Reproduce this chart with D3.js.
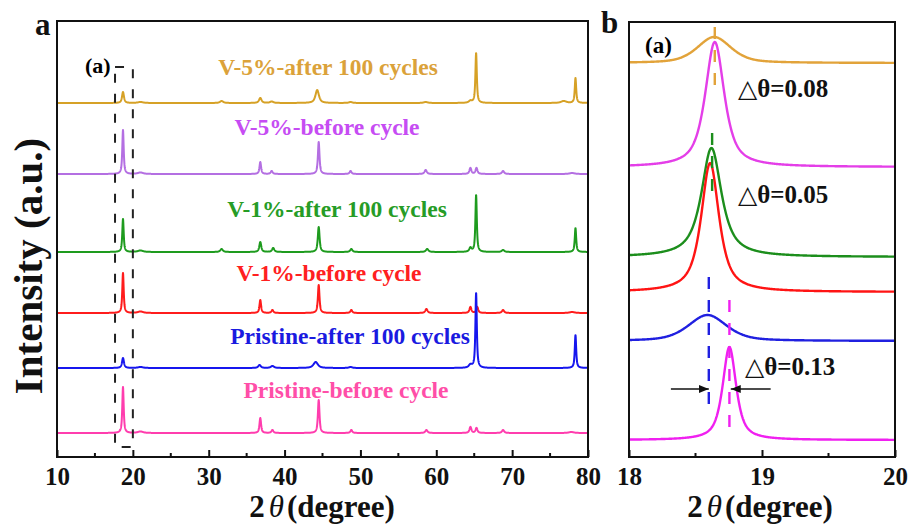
<!DOCTYPE html>
<html>
<head>
<meta charset="utf-8">
<script src="https://cdn.jsdelivr.net/npm/d3@7"></script>
<style>
  body { margin: 0; background: #fff; }
  text { font-family: "Liberation Serif", "Times New Roman", serif; font-weight: bold; }
</style>
</head>
<body>
<div id="chart"></div>
<script>
// ---- data ----
var names = ["V-5%-after 100 cycles", "V-5%-before cycle", "V-1%-after 100 cycles",
             "V-1%-before cycle", "Pristine-after 100 cycles", "Pristine-before cycle"];

// panel a: vertical stacking offsets (a.u.) and peaks [2theta, height, fwhm]
var offsetsA = [354, 283, 205, 144, 89, 24];
var peaksA = [
  [[18.7,11,0.3],[21.0,1,0.8],[31.7,2,0.5],[36.8,5,0.4],[38.3,1.5,0.5],[44.3,13,0.55],[48.7,1,0.5],[58.6,1,0.6],[64.5,2,0.5],[65.25,50,0.22],[76.8,2,0.8],[78.35,25,0.22]],
  [[18.7,44,0.22],[21.0,1.5,0.8],[36.8,12,0.25],[38.3,3,0.3],[44.5,32,0.25],[48.7,3,0.3],[58.6,4,0.35],[64.5,6,0.3],[65.3,6,0.3],[68.8,3,0.35],[77.9,1,0.8]],
  [[18.7,33,0.22],[21.0,1.5,0.8],[31.7,3,0.4],[36.8,10,0.3],[38.5,4,0.35],[44.5,25,0.28],[48.8,3,0.35],[58.8,3,0.4],[64.5,4,0.35],[65.25,57,0.22],[68.8,2,0.4],[78.35,24,0.22]],
  [[18.7,40,0.22],[21.0,1.5,0.8],[36.8,13,0.25],[38.4,3,0.3],[44.5,28,0.25],[48.8,3,0.3],[58.7,4,0.35],[64.5,6,0.3],[65.4,6,0.3],[68.8,3,0.35],[77.9,1,0.8]],
  [[18.7,10,0.3],[21.0,1,0.8],[36.7,3,0.4],[38.4,2,0.5],[44.1,6,0.7],[48.7,1,0.5],[64.5,3,0.5],[65.25,75,0.22],[78.35,33,0.22]],
  [[18.7,46,0.22],[21.0,1.5,0.8],[36.8,15,0.25],[38.4,3,0.3],[44.5,33,0.25],[48.8,3,0.3],[58.7,3,0.35],[64.5,6,0.3],[65.3,5,0.3],[68.8,3,0.35],[77.8,1,0.8]]
];
var boxA = [17.65, 20.0, 10, 390];   // dashed zoom window (2theta, a.u.)

// panel b: zoom on the (003) peak, [2theta, height, fwhm, lorentz fraction]
var offsetsB = [394, 290, 200, 165, 116, 17];
var peaksB = [
  [[18.64, 26, 0.30, 0.5]],
  [[18.645, 125, 0.17, 0.75]],
  [[18.62, 109, 0.18, 0.85]],
  [[18.61, 129, 0.16, 0.8]],
  [[18.59, 26, 0.34, 0.5]],
  [[18.755, 93, 0.12, 0.75]]
];
var dashB = [[18.645, 372, 430, 0], [18.625, 262, 324, 2], [18.60, 44, 180, 4], [18.755, 22, 157, 5]];
var arrowsB = [[18.315, 18.60, 68], [19.065, 18.765, 68]];
var deltas = ["0.08", "0.05", "0.13"];

var ticksA = [10, 20, 30, 40, 50, 60, 70, 80];
var minorA = [15, 25, 35, 45, 55, 65, 75];
var ticksB = [18, 19, 20];
var minorB = [18.5, 19.5];

// ---- styles ----
var lineA = ["#d6a126", "#b46fe2", "#1e9b1e", "#ff1c1c", "#1616ee", "#ff3dae"];
var textA = ["#dba23a", "#c64cf3", "#269c26", "#ff2020", "#1a1ae0", "#ff4ea8"];
var lineB = ["#e2a33a", "#e43ee8", "#1c8e1c", "#ff1414", "#2020e0", "#f020f0"];

var width = 910, height = 525;
var svg = d3.select("#chart").append("svg").attr("width", width).attr("height", height);

var defs = svg.append("defs");
defs.append("marker").attr("id", "arr").attr("viewBox", "0 0 10 8")
  .attr("refX", 10).attr("refY", 4).attr("markerWidth", 10).attr("markerHeight", 8)
  .attr("markerUnits", "userSpaceOnUse").attr("orient", "auto")
  .append("path").attr("d", "M0,0L10,4L0,8Z").attr("fill", "#111");

function profile(x, peaks) {
  var s = 0;
  peaks.forEach(function(p) {
    var hw = p[2] / 2, eta = p.length > 3 ? p[3] : 0.8;
    var u = (x - p[0]) / hw;
    s += p[1] * (eta / (1 + u * u) + (1 - eta) * Math.exp(-Math.LN2 * u * u));
  });
  return s;
}

// ---------- panel a ----------
var xA = d3.scaleLinear().domain([10, 80]).range([57, 588]);
var yA = d3.scaleLinear().domain([0, 436]).range([457, 21]);

defs.append("clipPath").attr("id", "clipA").append("rect")
  .attr("x", 57).attr("y", 21).attr("width", 531).attr("height", 436);
defs.append("clipPath").attr("id", "clipB").append("rect")
  .attr("x", 629).attr("y", 22).attr("width", 266).attr("height", 435);

var gridA = d3.range(10, 80.0001, 0.02);
var lineGenA = d3.line().x(function(d) { return xA(d[0]); }).y(function(d) { return yA(d[1]); });

var gA = svg.append("g");
peaksA.forEach(function(pk, i) {
  var pts = gridA.map(function(t) { return [t, offsetsA[i] + profile(t, pk)]; });
  gA.append("path").attr("d", lineGenA(pts)).attr("clip-path", "url(#clipA)")
    .attr("fill", "none").attr("stroke", lineA[i]).attr("stroke-width", 2)
    .attr("stroke-linejoin", "round");
});

// dashed window
gA.append("rect")
  .attr("x", xA(boxA[0])).attr("y", yA(boxA[3]))
  .attr("width", xA(boxA[1]) - xA(boxA[0])).attr("height", yA(boxA[2]) - yA(boxA[3]))
  .attr("fill", "none").attr("stroke", "#222").attr("stroke-width", 2)
  .attr("stroke-dasharray", "9,11");
gA.append("text").attr("x", 85).attr("y", 73).attr("font-size", 22).text("(a)");

// labels
var labA = [[328, 75], [327, 135], [337, 217], [329, 281], [350, 344], [346, 398]];
names.forEach(function(n, i) {
  gA.append("text").attr("x", labA[i][0]).attr("y", labA[i][1])
    .attr("text-anchor", "middle").attr("font-size", 23.5).attr("fill", textA[i]).text(n);
});

// frame + ticks
gA.append("rect").attr("x", 57).attr("y", 21).attr("width", 531).attr("height", 436)
  .attr("fill", "none").attr("stroke", "#111").attr("stroke-width", 2);
var axA = gA.append("g").attr("transform", "translate(0,457)")
  .call(d3.axisBottom(xA).tickValues(ticksA).tickSizeInner(-7).tickSizeOuter(0).tickPadding(10));
axA.select(".domain").remove();
axA.selectAll("line").attr("stroke", "#111").attr("stroke-width", 2);
axA.selectAll("text").attr("font-size", 25).attr("fill", "#111")
  .attr("font-family", "Liberation Serif, serif").attr("font-weight", "bold");
gA.append("g").selectAll("line").data(minorA).enter().append("line")
  .attr("x1", function(d) { return xA(d); }).attr("x2", function(d) { return xA(d); })
  .attr("y1", 457).attr("y2", 453).attr("stroke", "#111").attr("stroke-width", 2);

// ---------- panel b ----------
var xB = d3.scaleLinear().domain([18, 20]).range([629, 895]);
var yB = d3.scaleLinear().domain([0, 435]).range([457, 22]);
var gridB = d3.range(18, 20.0001, 0.004);
var lineGenB = d3.line().x(function(d) { return xB(d[0]); }).y(function(d) { return yB(d[1]); });

var gB = svg.append("g");
peaksB.forEach(function(pk, i) {
  var pts = gridB.map(function(t) { return [t, offsetsB[i] + profile(t, pk)]; });
  gB.append("path").attr("d", lineGenB(pts)).attr("clip-path", "url(#clipB)")
    .attr("fill", "none").attr("stroke", lineB[i]).attr("stroke-width", 2.4)
    .attr("stroke-linejoin", "round");
});

dashB.forEach(function(d) {
  gB.append("line").attr("x1", xB(d[0])).attr("x2", xB(d[0]))
    .attr("y1", yB(d[2])).attr("y2", yB(d[1]))
    .attr("stroke", lineB[d[3]]).attr("stroke-width", 2.4).attr("stroke-dasharray", "12,11");
});

arrowsB.forEach(function(a) {
  gB.append("line").attr("x1", xB(a[0])).attr("x2", xB(a[1]))
    .attr("y1", yB(a[2])).attr("y2", yB(a[2]))
    .attr("stroke", "#111").attr("stroke-width", 1.6).attr("marker-end", "url(#arr)");
});

gB.append("text").attr("x", 645).attr("y", 53).attr("font-size", 23).text("(a)");

var labB = [[738, 97], [738, 203], [745, 375]];
deltas.forEach(function(v, i) {
  var t = gB.append("text").attr("x", labB[i][0]).attr("y", labB[i][1]).attr("font-size", 25).attr("fill", "#111");
  t.append("tspan").attr("font-family", "DejaVu Sans, sans-serif").attr("font-weight", "normal")
    .attr("font-size", 25).text("\u25B3");
  t.append("tspan").text("\u03B8=" + v);
});

gB.append("rect").attr("x", 629).attr("y", 22).attr("width", 266).attr("height", 435)
  .attr("fill", "none").attr("stroke", "#111").attr("stroke-width", 2);
var axB = gB.append("g").attr("transform", "translate(0,457)")
  .call(d3.axisBottom(xB).tickValues(ticksB).tickFormat(d3.format("d"))
    .tickSizeInner(-7).tickSizeOuter(0).tickPadding(10));
axB.select(".domain").remove();
axB.selectAll("line").attr("stroke", "#111").attr("stroke-width", 2);
axB.selectAll("text").attr("font-size", 25).attr("fill", "#111")
  .attr("font-family", "Liberation Serif, serif").attr("font-weight", "bold");
gB.append("g").selectAll("line").data(minorB).enter().append("line")
  .attr("x1", function(d) { return xB(d); }).attr("x2", function(d) { return xB(d); })
  .attr("y1", 457).attr("y2", 453).attr("stroke", "#111").attr("stroke-width", 2);

// ---------- titles ----------
function xTitle(cx) {
  var t = svg.append("text").attr("x", cx).attr("y", 517).attr("text-anchor", "middle")
    .attr("font-size", 31).attr("fill", "#111");
  t.append("tspan").text("2");
  t.append("tspan").attr("dx", 4).attr("font-style", "italic").attr("font-weight", "normal").text("\u03B8");
  t.append("tspan").attr("dx", 3).text("(degree)");
}
xTitle(322);
xTitle(760);

svg.append("text").attr("transform", "translate(42,266) rotate(-90)")
  .attr("text-anchor", "middle").attr("font-size", 41).attr("fill", "#111").text("Intensity (a.u.)");

svg.append("text").attr("x", 35).attr("y", 35).attr("font-size", 31).attr("fill", "#111").text("a");
svg.append("text").attr("x", 601).attr("y", 33).attr("font-size", 31).attr("fill", "#111").text("b");
</script>
</body>
</html>
